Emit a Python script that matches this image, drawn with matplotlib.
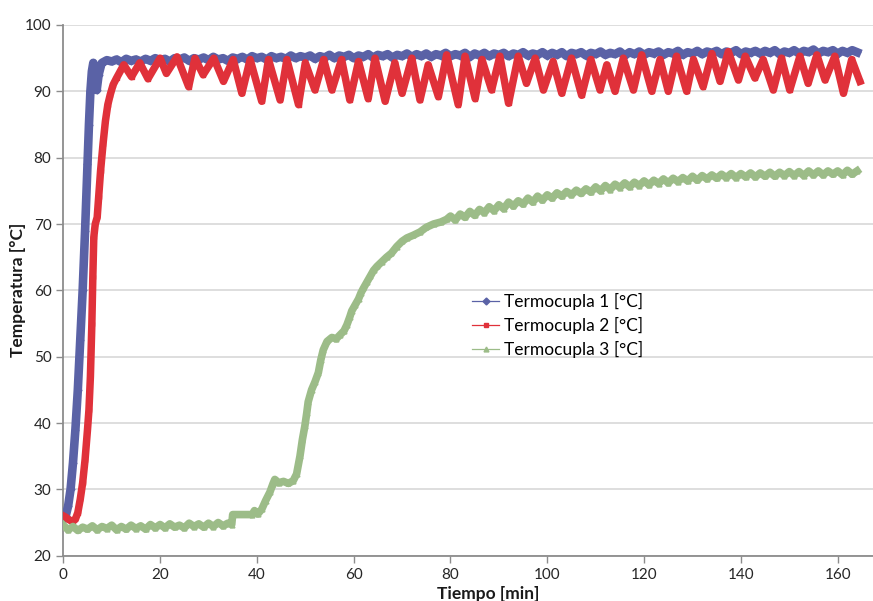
import matplotlib
matplotlib.use('Agg')
import matplotlib.pyplot as plt
from matplotlib.lines import Line2D

# Termocupla 1: subida rapida y luego meseta ~95 C
t1 = [0, 0.5, 1.0, 1.5, 2.0, 2.5, 3.0, 3.5, 4.0, 4.5, 5.0, 5.3, 5.6, 5.9, 6.2, 6.5, 6.9, 7.3, 7.9] + list(range(8, 165))
T1 = [25.5, 26.0, 27.5, 30.0, 34.0, 39.0, 45.0, 52.5, 60.0, 69.0, 79.0, 85.0, 90.0, 93.0, 94.3, 92.5, 90.2, 92.5, 94.2,
      94.3, 94.7, 94.5, 94.8, 94.4, 94.9, 94.6, 94.8, 94.5, 94.9,
      94.6, 95.0, 94.7, 94.9, 94.5, 95.0, 94.8, 95.1, 94.6, 95.0,
      94.8, 95.1, 94.7, 95.2, 94.8, 95.0, 94.6, 95.1, 94.9, 95.2,
      94.8, 95.3, 95.0, 95.2, 94.8, 95.3, 95.0, 95.2, 94.9, 95.4,
      95.0, 95.3, 95.1, 95.4, 94.9, 95.3, 95.1, 95.5, 95.0, 95.4,
      95.2, 95.5, 95.0, 95.4, 95.2, 95.6, 95.1, 95.5, 95.3, 95.6,
      95.1, 95.5, 95.3, 95.7, 95.2, 95.6, 95.3, 95.7, 95.2, 95.6,
      95.4, 95.8, 95.3, 95.6, 95.4, 95.8, 95.2, 95.7, 95.4, 95.8,
      95.3, 95.7, 95.5, 95.8, 95.3, 95.7, 95.5, 95.9, 95.4, 95.7,
      95.5, 95.9, 95.4, 95.8, 95.5, 95.9, 95.3, 95.8, 95.6, 95.9,
      95.4, 95.8, 95.6, 96.0, 95.5, 95.8, 95.6, 96.0, 95.4, 95.9,
      95.6, 96.0, 95.5, 95.9, 95.7, 96.0, 95.5, 95.9, 95.7, 96.1,
      95.5, 95.9, 95.7, 96.1, 95.6, 96.0, 95.8, 96.1, 95.6, 96.0,
      95.8, 96.2, 95.6, 96.0, 95.8, 96.1, 95.7, 96.1, 95.8, 96.2,
      95.6, 96.0, 95.8, 96.2, 95.7, 96.1, 95.9, 96.3, 95.7, 96.1,
      95.9, 96.2, 95.7, 96.1, 95.8, 96.2, 95.9]

# Termocupla 2: subida y oscilaciones (picos y valles)
t2 = [0, 0.5, 1.0, 1.5, 2.0, 2.5, 3.0, 3.5, 4.0, 4.5, 5.0, 5.3, 5.6, 5.9, 6.1, 6.3, 6.6, 7.0, 7.3, 7.7,
      8.2, 8.7, 9.2, 9.7, 10.3, 11.0, 12.5, 14.1, 15.8, 17.5, 20.0, 21.3, 23.5, 25.9, 27.2, 28.9,
      31.1, 33.1, 35.1, 36.9, 38.6, 41.0, 42.4, 44.8, 46.2, 48.6, 50.0, 52.0, 53.8, 55.5, 57.5,
      59.2, 61.0, 63.0, 64.4, 66.5, 68.5, 70.0, 72.0, 73.7, 75.4, 77.5, 79.2, 81.6, 83.0, 85.1,
      86.5, 88.5, 90.2, 92.0, 94.0, 95.7, 97.5, 99.2, 101.2, 103.0, 105.0, 107.1, 109.0, 110.9,
      112.3, 114.0, 115.7, 117.8, 119.5, 121.6, 123.3, 125.0, 126.7, 128.8, 130.2, 132.2, 134.0,
      135.7, 137.4, 139.5, 140.9, 142.9, 144.6, 146.7, 148.4, 150.1, 152.2, 153.9, 155.7, 157.4,
      159.4, 161.2, 162.9, 164.6]
T2 = [26.0, 25.8, 25.5, 25.3, 25.2, 25.5, 26.5, 28.5, 31.0, 34.5, 39.0, 42.0, 47.0, 55.0, 62.0, 68.0, 70.0, 71.0, 74.0, 78.0,
      82.0, 85.5, 88.0, 89.5, 91.0, 92.0, 94.0, 92.2, 94.3, 91.9, 95.0, 92.7, 95.2, 90.7, 95.0, 92.5,
      95.0, 91.5, 94.8, 89.7, 94.8, 88.5, 94.8, 88.7, 94.8, 88.0, 94.3, 90.2, 94.8, 90.2, 94.8,
      88.7, 94.5, 88.9, 95.0, 88.5, 94.3, 89.7, 95.0, 88.7, 94.0, 89.2, 95.5, 88.0, 95.3, 88.9,
      94.8, 90.2, 95.3, 88.2, 95.3, 91.2, 95.0, 90.2, 94.5, 89.7, 95.0, 89.4, 94.8, 90.2,
      94.0, 90.0, 95.0, 90.2, 95.5, 90.0, 94.8, 90.0, 95.3, 90.0, 94.8, 90.7, 95.7,
      91.5, 96.0, 91.7, 95.3, 92.0, 94.8, 90.2, 95.0, 90.2, 95.3, 91.2, 95.5, 91.7,
      95.3, 89.7, 94.8, 91.5]

# Termocupla 3: base ~24 C, subida lenta hasta ~78 C
t3 = list(range(0, 35)) + [34.8, 35.0, 39.0, 39.5, 40.2, 41.0, 41.8, 42.7, 43.3, 43.7, 44.5, 45.5, 46.5, 47.5,
      48.2, 48.9, 49.4, 49.9, 50.3, 50.6, 51.3, 52.0, 52.7, 53.2, 53.7, 54.5, 55.5, 56.4, 57.2,
      58.0, 58.6, 59.2, 59.6, 60.3, 61.0, 61.5, 62.0, 62.7, 63.4, 64.1, 64.8, 65.8, 66.8, 67.8,
      68.9, 70.0, 71.0, 72.3, 73.7, 75.0, 76.5, 78.0, 79.2] + list(range(80, 165))
T3 = [24.6, 23.9, 24.4, 23.8, 24.3, 24.0, 24.5, 23.9, 24.4, 24.1,
      24.6, 23.9, 24.4, 24.0, 24.6, 24.1, 24.5, 24.0, 24.7, 24.2,
      24.7, 24.2, 24.8, 24.3, 24.6, 24.2, 24.9, 24.4, 24.8, 24.3,
      24.9, 24.4, 25.0, 24.5, 24.9,
      24.7, 26.2, 26.2, 26.8, 26.3, 27.0, 28.3, 29.6, 30.8, 31.5, 31.0, 31.2, 30.9, 31.3,
      32.3, 35.0, 37.5, 39.5, 41.5, 43.2, 45.0, 46.2, 47.6, 49.5, 51.0, 52.3, 52.9, 52.7, 53.3,
      53.9, 54.8, 56.0, 56.9, 57.8, 58.7, 59.6, 60.3, 61.2, 62.1, 63.0, 63.6, 64.3, 65.0, 65.6,
      66.6, 67.4, 67.9, 68.3, 68.8, 69.5, 70.0, 70.3, 70.7,
      71.2, 70.6, 71.5, 71.0, 71.9, 71.3, 72.2, 71.7, 72.6, 72.0,
      72.9, 72.3, 73.3, 72.7, 73.5, 73.0, 73.9, 73.3, 74.2, 73.6,
      74.4, 73.9, 74.7, 74.2, 74.9, 74.4, 75.1, 74.6, 75.3, 74.8,
      75.6, 75.0, 75.8, 75.2, 76.0, 75.5, 76.2, 75.6, 76.3, 75.8,
      76.5, 75.9, 76.6, 76.1, 76.8, 76.2, 76.9, 76.4, 77.0, 76.5,
      77.2, 76.6, 77.3, 76.8, 77.4, 76.9, 77.5, 77.0, 77.6, 77.0,
      77.6, 77.1, 77.7, 77.1, 77.7, 77.2, 77.8, 77.2, 77.8, 77.3,
      77.9, 77.3, 77.9, 77.3, 78.0, 77.4, 78.0, 77.4, 78.0, 77.5,
      78.0, 77.4, 78.1, 77.5, 78.0]

labels = ['Termocupla 1 [°C]', 'Termocupla 2 [°C]', 'Termocupla 3 [°C]']
colors = ['#5A62A6', '#E0313A', '#9CBC88']
markers = ['D', 's', '^']

plt.rcParams['font.family'] = ['Lato', 'DejaVu Sans']

fig = plt.figure(figsize=(8.73, 6.01), dpi=100)
ax = fig.add_axes([63.3 / 873, 45.3 / 601, 1 - 63.3 / 873, 530.7 / 601])

ax.plot(t1, T1, color=colors[0], lw=6.2, marker=markers[0], ms=3.5, solid_joinstyle='round', zorder=3)
ax.plot(t2, T2, color=colors[1], lw=5.4, marker=markers[1], ms=3.5, solid_joinstyle='round', zorder=4)
ax.plot(t3, T3, color=colors[2], lw=5.5, marker=markers[2], ms=3.5, solid_joinstyle='round', zorder=5)

ax.set_xlim(0, 167.3)
ax.set_ylim(20, 100)
ax.set_xticks(range(0, 161, 20))
ax.set_yticks(range(20, 101, 10))
ax.grid(axis='y', color='#D4D4D4', lw=1.1)
ax.set_axisbelow(True)
for s in ['top', 'right']:
    ax.spines[s].set_visible(False)
for s in ['left', 'bottom']:
    ax.spines[s].set_color('#8C8C8C')
    ax.spines[s].set_linewidth(1.3)
ax.tick_params(axis='both', colors='#8C8C8C', labelcolor='#262626', labelsize=11, length=5, width=1)

fig.text(18 / 873, 1 - 290 / 601, 'Temperatura [°C]', rotation=90, ha='center', va='center',
         fontsize=12.5, fontweight='bold', color='#1A1A1A')
fig.text(488 / 873, 1 - 594 / 601, 'Tiempo [min]', ha='center', va='center',
         fontsize=12.5, fontweight='bold', color='#1A1A1A')

handles = [Line2D([], [], color=c, lw=0.9, marker=m, ms=3.5) for c, m in zip(colors, markers)]
ax.legend(handles, labels, loc='upper left', bbox_to_anchor=(456 / 873, 1 - 277 / 601),
          bbox_transform=fig.transFigure, frameon=False, fontsize=12.5,
          handlelength=1.6, handletextpad=0.25, labelspacing=0.42)

fig.savefig('out.png', dpi=100)
